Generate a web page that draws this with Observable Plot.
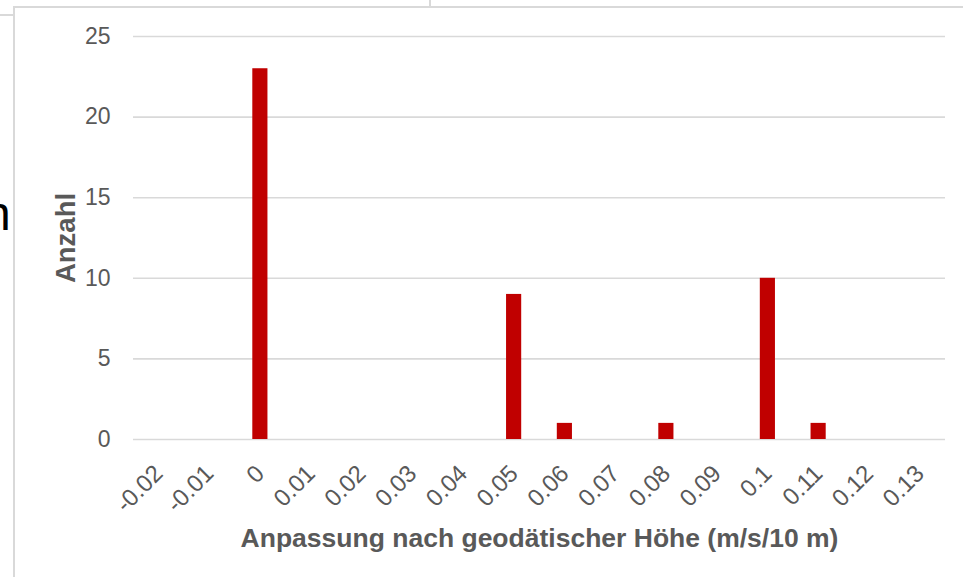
<!DOCTYPE html>
<html>
<head>
<meta charset="utf-8">
<script src="https://cdn.jsdelivr.net/npm/d3@7"></script>
<script src="https://cdn.jsdelivr.net/npm/@observablehq/plot@0.6"></script>
<style>
  html, body { margin: 0; padding: 0; background: #fff; }
  #wrap { position: relative; width: 963px; height: 577px; overflow: hidden; font-family: "Liberation Sans", Arial, sans-serif; }
  .ln { position: absolute; background: #d9d9d9; z-index: 2; }
  #frag { position: absolute; z-index: 3; left: -16px; top: 190px; font-size: 48px; color: #000; font-family: "Liberation Sans", Arial, sans-serif; line-height: 1; }
</style>
</head>
<body>
<div id="wrap"></div>
<script>
const categories = ["-0.02","-0.01","0","0.01","0.02","0.03","0.04","0.05","0.06","0.07","0.08","0.09","0.1","0.11","0.12","0.13"];
const counts = [0,0,23,0,0,0,0,9,1,0,1,0,10,1,0,0];
const yTicks = [0,5,10,15,20,25];
const xTitle = "Anpassung nach geodätischer Höhe (m/s/10 m)";
const yTitle = "Anzahl";

const data = categories.map((c, i) => ({cat: c, n: counts[i]}));
const grey = "#595959";

const chart = Plot.plot({
  width: 963,
  height: 577,
  marginTop: 36,
  marginBottom: 138,
  marginLeft: 133,
  marginRight: 18,
  style: {fontFamily: "'Liberation Sans', Arial, sans-serif", background: "#fff", color: grey},
  x: {domain: categories, padding: 0, align: 0.5, round: false},
  y: {domain: [0, 25]},
  marks: [
    Plot.gridY(yTicks, {stroke: "#d9d9d9", strokeOpacity: 1, strokeWidth: 1.6}),
    Plot.barY(data, {x: "cat", y: "n", fill: "#c00000", insetLeft: 17.8, insetRight: 17.8}),
    Plot.axisY(yTicks, {tickSize: 0, tickPadding: 23, fontSize: 23, fill: grey, label: null}),
    Plot.axisX({tickSize: 0, tickPadding: 30, dx: 0, tickRotate: -45, fontSize: 24, fill: grey, label: null}),
    Plot.text([xTitle], {frameAnchor: "bottom", lineAnchor: "bottom", dy: 107, text: d => d, fontSize: 26.5, fontWeight: "bold", fill: grey}),
    Plot.text([yTitle], {frameAnchor: "left", textAnchor: "middle", rotate: -90, dx: -67, text: d => d, fontSize: 27.5, fontWeight: "bold", fill: grey})
  ]
});

const wrap = document.getElementById("wrap");
wrap.appendChild(chart);
const lines = [
  {l: 13, t: 7, w: 2, h: 570},
  {l: 13, t: 6, w: 950, h: 2},
  {l: 0, t: 14, w: 13, h: 2},
  {l: 429, t: 0, w: 2, h: 7}
];
for (const s of lines) {
  const d = document.createElement("div");
  d.className = "ln";
  d.style.left = s.l + "px"; d.style.top = s.t + "px"; d.style.width = s.w + "px"; d.style.height = s.h + "px";
  wrap.appendChild(d);
}
const f = document.createElement("div");
f.id = "frag";
f.textContent = "n";
wrap.appendChild(f);
</script>
</body>
</html>
